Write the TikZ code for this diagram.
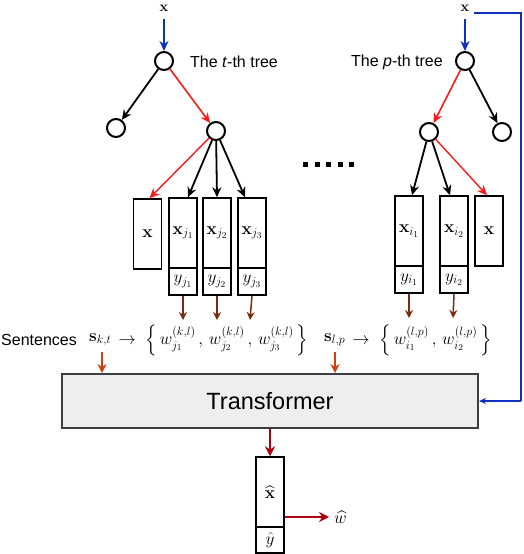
\documentclass[tikz,border=0pt]{standalone}
\usepackage{amsmath}
\usepackage[no-math]{fontspec}
\setmainfont{Liberation Sans}
\usetikzlibrary{arrows.meta}
\definecolor{cblue}{HTML}{1030C0}
\definecolor{cred}{HTML}{FF1A1A}
\definecolor{cbrown}{HTML}{7A2A10}
\definecolor{corange}{HTML}{D04010}
\definecolor{cdred}{HTML}{B00010}
\definecolor{tfill}{HTML}{EEEEEE}
\definecolor{tdraw}{HTML}{3A3D42}
\begin{document}
\begin{tikzpicture}[x=1pt,y=-1pt,
  font=\fontsize{16}{19}\selectfont,
  tnode/.style={circle,draw,line width=2pt,minimum size=18pt,inner sep=0pt},
  fbox/.style={draw,line width=1.5pt,minimum width=28pt,inner sep=0pt,font=\fontsize{18}{21}\selectfont},
  ubox/.style={fbox,minimum height=70pt},
  lbox/.style={fbox,minimum height=27pt},
  arr/.style={line width=1.8pt,-{Stealth[length=10pt,width=9pt]}},
  blk/.style={arr,black},
  rd/.style={arr,cred,line width=1.6pt},
  bl/.style={arr,cblue},
  br/.style={arr,cbrown,line width=1.5pt,-{Stealth[length=8pt,width=8pt]}},
  org/.style={arr,corange,line width=1.5pt,-{Stealth[length=9pt,width=9pt]}},
  dr/.style={arr,cdred,line width=2.2pt,-{Stealth[length=10pt,width=10pt]}},
  lbl/.style={inner sep=1pt},
  mth/.style={lbl,font=\fontsize{18}{21}\selectfont}
]
\useasboundingbox (0,0) rectangle (524,554);

% ---- tree t ----
\node[lbl,font=\fontsize{14}{16}\selectfont] (xt) at (164,8) {$\mathbf{x}$};
\node[tnode] (rt) at (164,61) {};
\node[tnode] (lt) at (116,128) {};
\node[tnode] (ct) at (216,131) {};
\node[anchor=west,lbl] (tt) at (189,62) {The \textit{t}-th tree};
\draw[bl] (xt.south) ++(0,7) -- (rt.north);
\draw[blk] (rt) -- (lt);
\draw[rd] (rt) -- (ct);

\node[ubox] (bx) at (147.5,234) {$\mathbf{x}$};
\node[ubox] (bj1) at (183,233) {$\mathbf{x}_{j_1}$};
\node[lbox] (yj1) at (183,281.5) {$y_{j_1}$};
\node[ubox] (bj2) at (217,233) {$\mathbf{x}_{j_2}$};
\node[lbox] (yj2) at (217,281.5) {$y_{j_2}$};
\node[ubox] (bj3) at (252,233) {$\mathbf{x}_{j_3}$};
\node[lbox] (yj3) at (252,281.5) {$y_{j_3}$};
\draw[rd,line width=1.4pt] (ct) -- ([xshift=2pt]bx.north);
\draw[blk] (ct) -- ([xshift=5pt]bj1.north);
\draw[blk] (ct) -- (bj2.north);
\draw[blk] (ct) -- ([xshift=-7pt]bj3.north);

% ---- dots ----
\foreach \i in {0,...,4} \fill (303+11.5*\i,161.5) rectangle ++(5,5);

% ---- tree p ----
\node[lbl,font=\fontsize{14}{16}\selectfont] (xp) at (465,8) {$\mathbf{x}$};
\node[tnode] (rp) at (465,61) {};
\node[tnode] (lp) at (429,132) {};
\node[tnode] (cp) at (502,132) {};
\node[anchor=east,lbl] (tp) at (444,62) {The \textit{p}-th tree};
\draw[bl] (xp.south) ++(0,7) -- (rp.north);
\draw[rd] (rp) -- (lp);
\draw[blk] (rp) -- (cp);

\node[ubox] (bi1) at (409,231) {$\mathbf{x}_{i_1}$};
\node[lbox] (yi1) at (409,279.5) {$y_{i_1}$};
\node[ubox] (bi2) at (454,231) {$\mathbf{x}_{i_2}$};
\node[lbox] (yi2) at (454,279.5) {$y_{i_2}$};
\node[ubox] (bx2) at (489,231) {$\mathbf{x}$};
\draw[blk] (lp) -- ([xshift=3pt]bi1.north);
\draw[blk] (lp) -- ([xshift=-4pt]bi2.north);
\draw[rd,line width=1.4pt] (lp) -- ([xshift=-2pt]bx2.north);

% ---- sentences ----
\node[anchor=west,lbl] (sen) at (0,340) {Sentences};
\node[anchor=west,mth] (skt) at (88,340) {$\mathbf{s}_{k,t}$};
\node[anchor=west,mth] (setk) at (skt.east) {$\;\rightarrow\; \Big\{\, w_{j_1}^{(k,l)}\,,\, w_{j_2}^{(k,l)}\,,\, w_{j_3}^{(k,l)} \,\Big\}$};
\node[anchor=west,mth] (slp) at (323,340) {$\mathbf{s}_{l,p}$};
\node[anchor=west,mth] (setl) at (slp.east) {$\;\rightarrow\; \Big\{\, w_{i_1}^{(l,p)}\,,\, w_{i_2}^{(l,p)} \,\Big\}$};

\coordinate (w1) at (183,320);
\coordinate (w2) at (217,320);
\coordinate (w3) at (250,320);
\coordinate (w4) at (409,318);
\coordinate (w5) at (453,318);
\draw[br] (yj1.south) -- (w1);
\draw[br] (yj2.south) -- (w2);
\draw[br] (yj3.south) -- (w3);
\draw[br] (yi1.south) -- (w4);
\draw[br] (yi2.south) -- (w5);

% ---- transformer ----
\node[draw=tdraw,fill=tfill,line width=2pt,minimum width=416pt,minimum height=54pt,
  font=\fontsize{23.5}{28}\selectfont] (tr) at (270,401) {Transformer};
\draw[org] ([yshift=-4pt]skt.south -| 102,0) -- (102,0 |- tr.north);
\draw[org] ([yshift=-4pt]slp.south -| 335,0) -- (335,0 |- tr.north);

% ---- blue feed ----
\coordinate (b1) at (521,13);
\coordinate (b2) at (521,401);
\draw[cblue,line width=1.3pt] (474,13) -- (b1) -- (b2);
\draw[bl,line width=1.3pt,-{Stealth[length=7pt,width=6pt]}] (b2) -- (tr.east);

% ---- output ----
\node[ubox] (xh) at (270,492) {$\widehat{\mathbf{x}}$};
\node[lbox,minimum height=26pt] (yh) at (270,540) {$\hat{y}$};
\draw[dr] (tr.south) -- (xh.north);
\node[anchor=west,mth] (wh) at (333,517) {$\widehat{w}$};
\draw[dr] (xh.east |- wh.west) -- ([xshift=-4pt]wh.west);
\end{tikzpicture}
\end{document}
